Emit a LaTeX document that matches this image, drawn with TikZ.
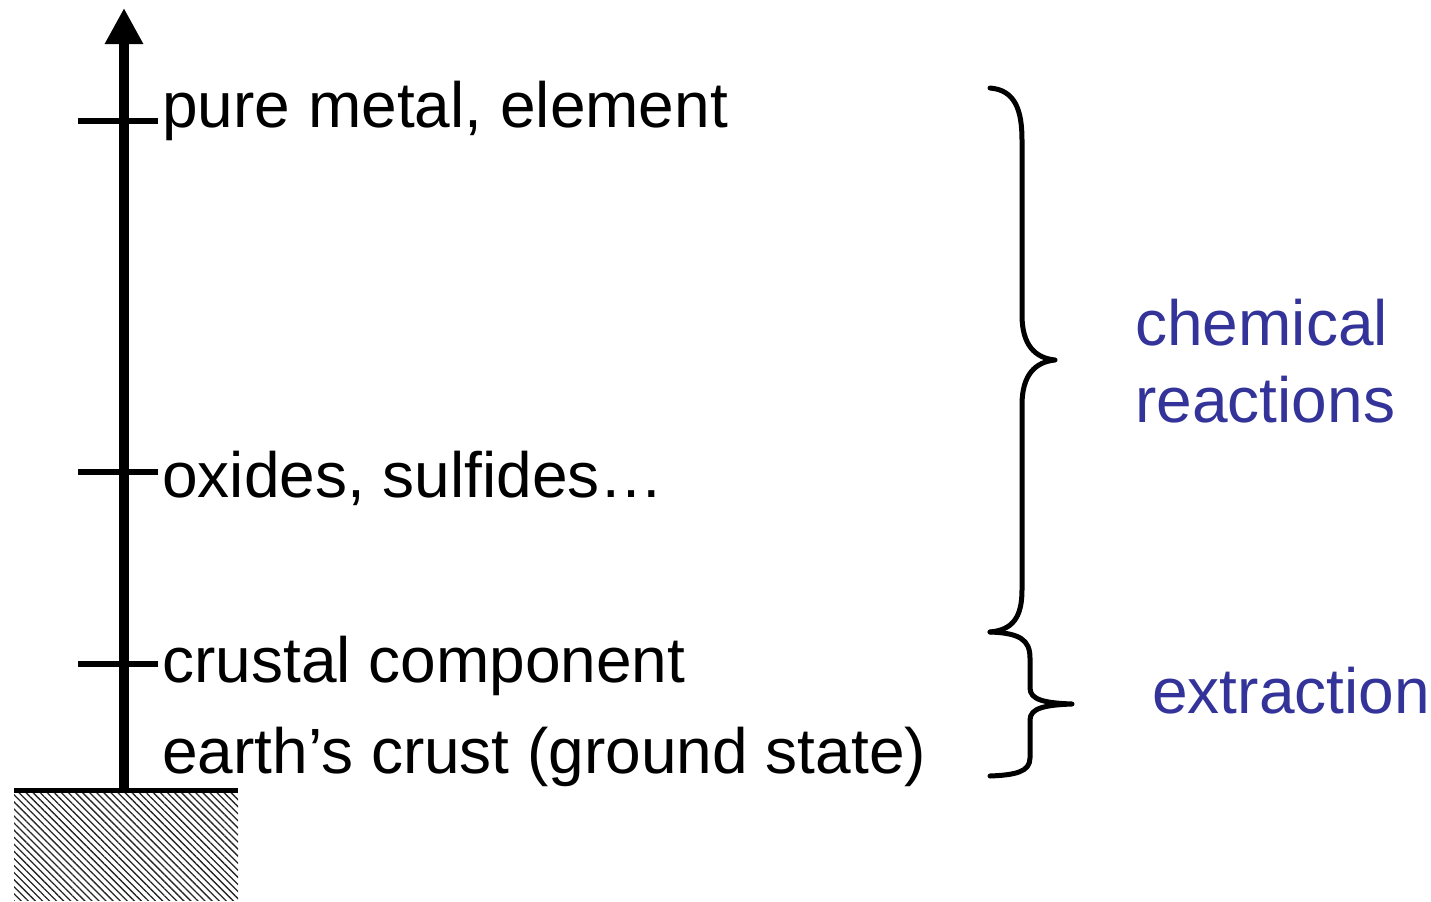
\documentclass[tikz,border=0pt]{standalone}
\usepackage{fontspec}
\setmainfont{Liberation Sans}
\usetikzlibrary{arrows.meta,patterns.meta}
\definecolor{labelblue}{HTML}{333399}
\begin{document}
\begin{tikzpicture}[x=0.5pt,y=-0.5pt,
  lbl/.style={anchor=base west,inner sep=0pt,font=\fontsize{32}{38}\selectfont},
  bluelbl/.style={lbl,text=labelblue,align=left},
  tickline/.style={line width=3pt},
  bracepath/.style={line width=2.5pt,line cap=round,line join=round}]
\useasboundingbox (0,0) rectangle (1431,901);
% ground
\fill[pattern={Lines[angle=-45,distance=2.5pt,line width=0.65pt]},pattern color=black!85] (14,793) rectangle (238,900);
\draw[line width=2.5pt] (14,790) -- (238,790);
% axis
\coordinate (base) at (124,790);
\coordinate (top) at (124,8);
\draw[line width=5pt,-{Triangle[length=18pt,width=18pt]}] (base) -- (top);
% ticks
\coordinate (t1l) at (78,121); \coordinate (t1r) at (158,121);
\coordinate (t2l) at (78,472); \coordinate (t2r) at (158,472);
\coordinate (t3l) at (78,664); \coordinate (t3r) at (158,664);
\draw[tickline] (t1l) -- (t1r);
\draw[tickline] (t2l) -- (t2r);
\draw[tickline] (t3l) -- (t3r);
% labels
\node[lbl] (pure) at (162,127) {pure metal, element};
\node[lbl] (oxides) at (162,497) {oxides, sulfides…};
\node[lbl] (crustal) at (162,682) {crustal component};
\node[lbl] (earth) at (162,773) {earth’s crust (ground state)};
% braces
\draw[bracepath] (990,88) .. controls (1015,90) and (1022,110) .. (1022,140) -- (1022,315)
  .. controls (1022,345) and (1035,358) .. (1055,360)
  .. controls (1035,362) and (1022,375) .. (1022,405) -- (1022,590)
  .. controls (1022,618) and (1012,630) .. (990,632);
\draw[bracepath] (990,632) .. controls (1020,633) and (1030,640) .. (1030,658) -- (1030,688)
  .. controls (1030,700) and (1045,703) .. (1072,704)
  .. controls (1045,705) and (1030,708) .. (1030,720) -- (1030,758)
  .. controls (1030,772) and (1015,775) .. (990,776);
\node[bluelbl] (chem) at (1135,345) {chemical};
\node[bluelbl] (react) at (1135,422) {reactions};
\node[bluelbl] (extr) at (1152,713) {extraction};
\end{tikzpicture}
\end{document}
